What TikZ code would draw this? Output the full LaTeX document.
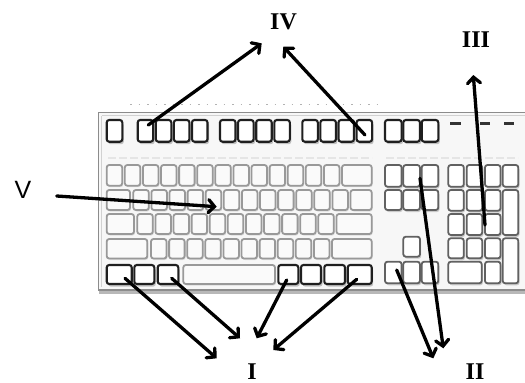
\documentclass[tikz,border=0pt]{standalone}
\usepackage{fontspec}
\newfontfamily\lblfont{Liberation Serif}
\newfontfamily\lblsans{Liberation Sans}
\usetikzlibrary{arrows.meta,shadows}
\newcommand\kbkey[5]{\path[#1] (#2,#3) rectangle (#4,#5);}
\begin{document}
\begin{tikzpicture}[x=1pt,y=-1pt,
  kb/.style={rounded corners=2.5pt, line width=1.8pt},
  blackkey/.style={kb, line width=2.1pt, draw=black!88, fill=white, drop shadow={shadow xshift=1.5pt, shadow yshift=-2.5pt, opacity=0.22, fill=black}},
  darkkey/.style={kb, draw=black!62, fill=white, drop shadow={shadow xshift=1.2pt, shadow yshift=-2pt, opacity=0.18, fill=black}},
  graykey/.style={kb, draw=black!40, fill=black!2, drop shadow={shadow xshift=1pt, shadow yshift=-1.5pt, opacity=0.10, fill=black}},
  arr/.style={line width=3.3pt, line cap=round, -{Straight Barb[length=6pt,width=13pt,line cap=round]}},
  lbl/.style={inner sep=0pt, font=\fontsize{24}{28}\lblfont\bfseries},
  led/.style={line width=2.6pt, draw=black!80}
]
\useasboundingbox (0,0) rectangle (525,383);
\fill[white] (0,0) rectangle (525,383);
% frame
\path[draw=black!45, line width=1.3pt, fill=black!3,
  drop shadow={shadow xshift=0pt, shadow yshift=-4pt, opacity=0.28, fill=black}]
  (98.5,112.5) rectangle (545,290);
\draw[black!18, line width=0.8pt] (101.5,115.5) -- (545,115.5);
\draw[black!18, line width=0.8pt] (101.5,115.5) -- (101.5,287);
% faint label marks
\draw[black!30, line width=1pt, dash pattern=on 1.5pt off 7pt] (130,104) -- (382,104);
\draw[black!10, line width=1.5pt, dash pattern=on 8pt off 3pt] (108,158) -- (372,158);
\draw[black!10, line width=1.5pt, dash pattern=on 8pt off 3pt] (386,158) -- (518,158);
% function row
\kbkey{blackkey}{106.7}{120}{122.3}{141.7}
\foreach \s in {137.7,220,302.3}{
  \foreach \i in {0,...,3}{
    \kbkey{blackkey}{\s+18.1*\i}{120}{\s+15.5+18.1*\i}{141.7}
  }
}
\foreach \x in {385,403.3,421.7}{\kbkey{blackkey}{\x}{120}{\x+16.6}{141.7}}
% LEDs
\draw[led] (450,123.3) -- (460.7,123.3);
\draw[led] (480,123.3) -- (490,123.3);
\draw[led] (504,123.3) -- (514,123.3);
% number row
\foreach \i in {0,...,12}{\kbkey{graykey}{106.7+18.1*\i}{165}{122.2+18.1*\i}{185.7}}
\kbkey{graykey}{342}{165}{371.7}{185.7}
% qwerty row
\kbkey{graykey}{106.7}{190}{130}{210}
\foreach \i in {0,...,11}{\kbkey{graykey}{133.3+18.1*\i}{190}{148.8+18.1*\i}{210}}
\kbkey{graykey}{350.5}{190}{371.7}{210}
% home row
\kbkey{graykey}{106.7}{214}{134}{234}
\foreach \i in {0,...,10}{\kbkey{graykey}{137.3+18.1*\i}{214}{152.8+18.1*\i}{234}}
\kbkey{graykey}{336.5}{214}{371.7}{234}
% shift row
\kbkey{graykey}{106.7}{239}{147.3}{258.5}
\foreach \i in {0,...,9}{\kbkey{graykey}{151+18.1*\i}{239}{166.5+18.1*\i}{258.5}}
\kbkey{graykey}{332}{239}{371.7}{258.5}
% bottom row
\kbkey{blackkey}{106.7}{265}{131.7}{284}
\kbkey{blackkey}{134.3}{265}{154.3}{284}
\kbkey{blackkey}{157.7}{265}{178.3}{284}
\kbkey{graykey}{183.3}{265}{275}{284}
\kbkey{blackkey}{278.3}{265}{298.3}{284}
\kbkey{blackkey}{301}{265}{321}{284}
\kbkey{blackkey}{324.3}{265}{345}{284}
\kbkey{blackkey}{347.7}{265}{371.7}{284}
% navigation cluster
\foreach \x in {385,403.3,421.7}{
  \kbkey{darkkey}{\x}{165}{\x+16.6}{186.7}
  \kbkey{darkkey}{\x}{190}{\x+16.6}{210}
  \kbkey{darkkey}{\x}{261.7}{\x+16.6}{283.3}
}
\kbkey{darkkey}{403.3}{236.7}{420}{256.7}
% numpad
\foreach \x in {448.3,466.7,485}{
  \kbkey{darkkey}{\x}{165}{\x+15.5}{186.7}
  \kbkey{darkkey}{\x}{190}{\x+15.5}{210.7}
  \kbkey{darkkey}{\x}{214}{\x+15.5}{235}
  \kbkey{darkkey}{\x}{238.3}{\x+15.5}{258.3}
}
\kbkey{darkkey}{502.7}{165}{518.3}{186.7}
\kbkey{darkkey}{502.7}{190}{518.3}{235}
\kbkey{darkkey}{502.7}{238.3}{518.3}{283.3}
\kbkey{darkkey}{448.3}{261.7}{481.7}{283.3}
\kbkey{darkkey}{485}{261.7}{500.5}{283.3}
% labels
\node[lbl] (IV) at (283.5,21.7) {IV};
\node[lbl] (III) at (476,40) {III};
\node[lbl, font=\fontsize{25}{28}\lblsans] (V) at (23,189.5) {V};
\node[lbl] (I) at (252,372) {I};
\node[lbl] (II) at (475,372) {II};
% arrow ends
\coordinate (iva) at (148.3,125);   \coordinate (ivae) at (261.7,43.3);
\coordinate (ivb) at (365,135);     \coordinate (ivbe) at (283.3,46.7);
\coordinate (iiia) at (485,225);    \coordinate (iiiae) at (473.3,75);
\coordinate (va) at (56.7,196);     \coordinate (vae) at (216.7,206.7);
\coordinate (ia) at (125,278.3);    \coordinate (iae) at (216.7,358.3);
\coordinate (ib) at (171.7,278.3);  \coordinate (ibe) at (240,338.3);
\coordinate (ic) at (286.7,280);    \coordinate (ice) at (256.7,338.3);
\coordinate (id) at (356.7,279.3);  \coordinate (ide) at (273.3,350);
\coordinate (iia) at (396.7,270);   \coordinate (iiae) at (433.3,358.3);
\coordinate (iib) at (420,178.3);   \coordinate (iibe) at (443.3,348.3);
% arrows
\draw[arr] (iva) -- (ivae);
\draw[arr] (ivb) -- (ivbe);
\draw[arr] (iiia) -- (iiiae);
\draw[arr] (va) -- (vae);
\draw[arr] (ia) -- (iae);
\draw[arr] (ib) -- (ibe);
\draw[arr] (ic) -- (ice);
\draw[arr] (id) -- (ide);
\draw[arr] (iia) -- (iiae);
\draw[arr] (iib) -- (iibe);
\end{tikzpicture}
\end{document}
